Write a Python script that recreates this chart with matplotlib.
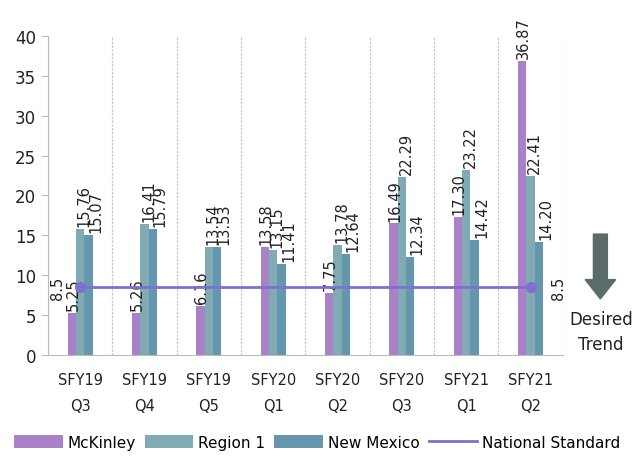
import numpy as np
import matplotlib.pyplot as plt
from matplotlib.patches import FancyArrow

quarters = ["SFY19\nQ3", "SFY19\nQ4", "SFY19\nQ5", "SFY20\nQ1",
            "SFY20\nQ2", "SFY20\nQ3", "SFY21\nQ1", "SFY21\nQ2"]
mckinley = [5.25, 5.26, 6.16, 13.58, 7.75, 16.49, 17.30, 36.87]
region1 = [15.76, 16.41, 13.54, 13.15, 13.78, 22.29, 23.22, 22.41]
new_mexico = [15.07, 15.79, 13.53, 11.41, 12.64, 12.34, 14.42, 14.20]
national_standard = 8.5

c_mck = "#aa80c8"
c_reg = "#80aab4"
c_nm = "#6496ae"
c_nat = "#7f6fd0"

fig = plt.figure(figsize=(6.34, 4.6), dpi=100)
ax = fig.add_axes([0.0757, 0.226, 0.812, 0.694])

x = np.arange(len(quarters))
w = 0.13
# (values, colour, name, bar offset, label x-shift in points)
series = [(mckinley, c_mck, "McKinley", -w, 1),
          (region1, c_reg, "Region 1", 0, 3),
          (new_mexico, c_nm, "New Mexico", w, 5)]
handles = []
for vals, col, name, off, dx in series:
    bars = ax.bar(x + off, vals, width=w, color=col, label=name, zorder=2)
    handles.append(bars)
    for b, v in zip(bars, vals):
        ax.annotate(f"{v:.2f}", (b.get_x() + b.get_width() / 2, v),
                    xytext=(dx, 2), textcoords="offset points",
                    rotation=90, ha="center", va="bottom", fontsize=10.5,
                    color="#222222")

# national standard line from first to last quarter
ax.plot([x[0], x[-1]], [national_standard] * 2, color=c_nat, lw=2,
        marker="o", markersize=7, zorder=3)
nat_handle, = ax.plot([], [], color=c_nat, lw=2, label="National Standard")
handles.append(nat_handle)
ax.annotate(f"{national_standard:g}", (x[0], national_standard), xytext=(-16, 0),
            textcoords="offset points", rotation=90, ha="center", va="center",
            fontsize=10.5, color="#222222")
ax.annotate(f"{national_standard:g}", (x[-1], national_standard), xytext=(20, 0),
            textcoords="offset points", rotation=90, ha="center", va="center",
            fontsize=10.5, color="#222222")

ax.set_xlim(-0.5, len(quarters) - 0.5)
ax.set_ylim(0, 40)
ax.set_yticks(range(0, 41, 5))
ax.set_xticks(x)
ax.set_xticklabels(quarters, fontsize=10.5, color="#222222", linespacing=1.9)
ax.tick_params(axis="x", length=0, pad=12)
ax.tick_params(axis="y", labelsize=12, colors="#222222", length=5, color="#bbbbbb")

for b in np.arange(-0.5, len(quarters), 1.0):
    ax.axvline(b, color="#c8c8c8", lw=0.9, ls=(0, (2, 1)), zorder=1)
for s in ["top", "right"]:
    ax.spines[s].set_visible(False)
ax.spines["left"].set_color("#bbbbbb")
ax.spines["bottom"].set_color("#bbbbbb")

fig.legend(handles, [h.get_label() for h in handles], loc="lower center",
           bbox_to_anchor=(0.5, -0.01), ncol=4, frameon=False, fontsize=11,
           handlelength=3.2, handleheight=0.9, columnspacing=0.6, handletextpad=0.3)

# desired trend arrow
fig.patches.append(FancyArrow(0.947, 0.489, 0, -0.141, width=0.022,
                              head_width=0.048, head_length=0.042,
                              length_includes_head=True, color="#5b6b6a",
                              transform=fig.transFigure, figure=fig))
fig.text(0.948, 0.277, "Desired\nTrend", ha="center", va="center",
         fontsize=12, color="#222222", linespacing=1.5)

fig.savefig("out.png", dpi=100)
